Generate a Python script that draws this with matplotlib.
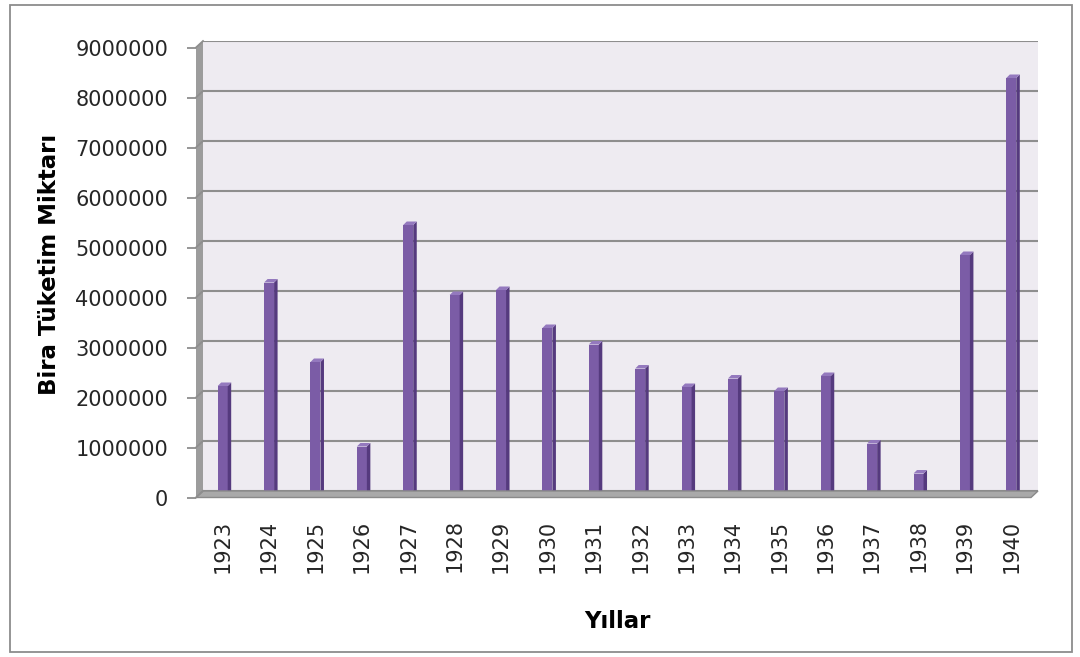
import matplotlib

matplotlib.use("Agg")
import matplotlib.pyplot as plt
import numpy as np
from matplotlib.patches import Polygon, Rectangle
from matplotlib.lines import Line2D

years = ["1923", "1924", "1925", "1926", "1927", "1928", "1929", "1930", "1931",
         "1932", "1933", "1934", "1935", "1936", "1937", "1938", "1939", "1940"]
consumption = [2170000, 4240000, 2650000, 960000, 5390000, 3990000, 4090000, 3330000,
               3000000, 2520000, 2150000, 2320000, 2070000, 2370000, 1020000, 420000,
               4790000, 8330000]
y_ticks = [0, 1000000, 2000000, 3000000, 4000000, 5000000, 6000000, 7000000, 8000000, 9000000]

W, H = 1080, 657
FRONT = "#7B5CA6"
SIDE = "#553A7E"
TOP = "#9479BE"
WALL = "#EEEBF1"
GRID = "#8E8E8E"


def fx(x):
    return x / W


def fy(y):
    return 1 - y / H


def frame(left, top, right, bottom):
    return [fx(left), fy(bottom), fx(right) - fx(left), fy(top) - fy(bottom)]


fig = plt.figure(figsize=(W / 100, H / 100), dpi=100)

# outer chart border
fig.patches.append(Rectangle((fx(10), fy(652)), fx(1072) - fx(10), fy(5) - fy(652),
                             transform=fig.transFigure, fill=False,
                             edgecolor="#8C8C8C", linewidth=1.3))

# back wall with gridlines
ax_back = fig.add_axes(frame(203, 41, 1038, 491))
ax_back.set_facecolor(WALL)
ax_back.set_ylim(0, 9000000)
ax_back.set_xlim(-0.5, len(years) - 0.5)
ax_back.set_yticks(y_ticks)
ax_back.set_xticks([])
ax_back.tick_params(left=False, labelleft=False)
ax_back.grid(axis="y", color=GRID, linewidth=1.5)
for s in ax_back.spines.values():
    s.set_visible(False)

# side wall and floor
fig.patches.append(Polygon([(fx(196), fy(497.5)), (fx(203), fy(491)), (fx(203), fy(41)),
                            (fx(196), fy(47.5))], closed=True, transform=fig.transFigure,
                           facecolor="#9C9C9C", edgecolor="none", zorder=1))
fig.patches.append(Polygon([(fx(196), fy(497.5)), (fx(1031), fy(497.5)), (fx(1038), fy(491)),
                            (fx(203), fy(491))], closed=True, transform=fig.transFigure,
                           facecolor="#A9A9A9", edgecolor="#8A8A8A", linewidth=1, zorder=1))

# front axis: tick marks and labels
ax_front = fig.add_axes(frame(196, 47.5, 1031, 497.5))
ax_front.patch.set_alpha(0)
ax_front.set_ylim(0, 9000000)
ax_front.set_yticks(y_ticks)
ax_front.set_yticklabels([str(t) for t in y_ticks])
ax_front.set_xticks([])
ax_front.tick_params(axis="y", length=6.5, width=1.3, color=GRID, pad=13.5,
                     labelsize=15, labelcolor="#262626")
for s in ax_front.spines.values():
    s.set_visible(False)
ax_front.set_ylabel("Bira Tüketim Miktarı", fontsize=16.5, fontweight="bold",
                    family="DejaVu Sans")
ax_front.yaxis.set_label_coords(-0.162, 0.517)

# slanted gridline segments on the side wall
for t in y_ticks:
    yf = 497.5 - t / 9000000 * 450
    fig.lines.append(Line2D([fx(196), fx(203)], [fy(yf), fy(yf - 6.5)],
                            transform=fig.transFigure, color=GRID, linewidth=1.3, zorder=2))

# bars at mid depth
ax_bar = fig.add_axes(frame(199.5, 44.5, 1034.5, 494.5))
ax_bar.patch.set_alpha(0)
ax_bar.set_ylim(0, 9000000)
ax_bar.set_xlim(-0.5, len(years) - 0.5)
ax_bar.set_yticks([])
ax_bar.set_xticks(np.arange(len(years)))
ax_bar.set_xticklabels(years, rotation=90, fontsize=15, color="#262626")
ax_bar.tick_params(axis="x", length=0, pad=18)
for s in ax_bar.spines.values():
    s.set_visible(False)
ax_bar.set_xlabel("Yıllar", fontsize=16.5, fontweight="bold", family="DejaVu Sans", labelpad=27)

slot = 835 / len(years)
w = 10 / slot
dx = 3.5 / slot
dy = 3.5 / 450 * 9000000
x = np.arange(len(years))
ax_bar.bar(x, consumption, width=w, color=FRONT, zorder=3)
for xi, v in zip(x, consumption):
    r = xi + w / 2
    ax_bar.add_patch(Polygon([(r, 0), (r + dx, dy), (r + dx, v + dy), (r, v)],
                             closed=True, facecolor=SIDE, edgecolor="none", zorder=3))
    ax_bar.add_patch(Polygon([(xi - w / 2, v), (r, v), (r + dx, v + dy), (xi - w / 2 + dx, v + dy)],
                             closed=True, facecolor=TOP, edgecolor="none", zorder=3))
    # zero-valued companion series, drawn as a flat slab
    sl = xi - w / 2 - w
    ax_bar.add_patch(Polygon([(sl, 0), (sl + w, 0), (sl + w + dx, dy), (sl + dx, dy)],
                             closed=True, facecolor=SIDE, edgecolor="none", zorder=3))

fig.savefig("out.png", dpi=100)
